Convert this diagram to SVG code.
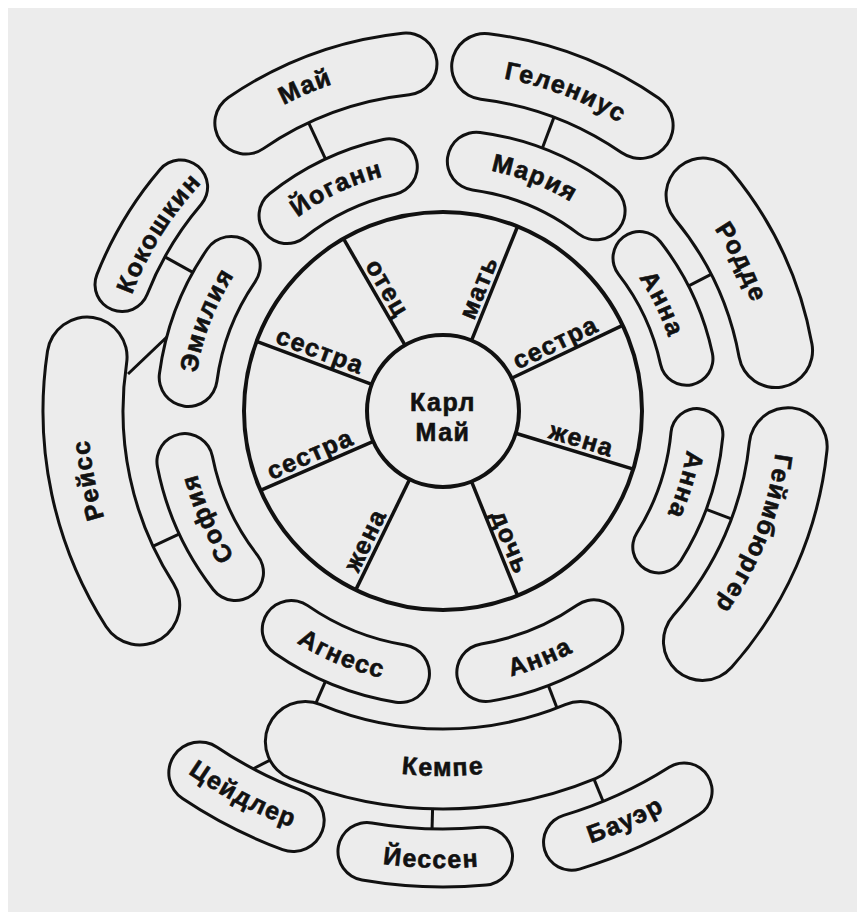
<svg xmlns="http://www.w3.org/2000/svg" width="857" height="912" viewBox="0 0 857 912">
<style>
.o{fill:none;stroke:#111;stroke-linecap:round}
.i{fill:none;stroke:#ececec;stroke-linecap:round}
.t{font-family:"Liberation Sans",Arial,sans-serif;font-weight:bold;font-size:25px;fill:#111;stroke:#111;stroke-width:0.6px;letter-spacing:1.5px}
.ln{stroke:#111;stroke-width:3.5;fill:none}
.cn{stroke:#111;stroke-width:3;fill:none}
.c{fill:#ececec;stroke:#111;stroke-width:4}
</style>
<defs>
<path id="u345" d="M443,756A345,345 0 0 1 443,66A345,345 0 0 1 443,756"/>
<path id="u338" d="M443,749A338,338 0 0 1 443,73A338,338 0 0 1 443,749"/>
<path id="u242" d="M443,653A242,242 0 0 1 443,169A242,242 0 0 1 443,653"/>
<path id="u245" d="M443,656A245,245 0 0 1 443,166A245,245 0 0 1 443,656"/>
<path id="u332" d="M443,743A332,332 0 0 1 443,79A332,332 0 0 1 443,743"/>
<path id="u249" d="M443,660A249,249 0 0 1 443,162A249,249 0 0 1 443,660"/>
<path id="u355" d="M443,766A355,355 0 0 1 443,56A355,355 0 0 1 443,766"/>
<path id="u254" d="M443,665A254,254 0 0 1 443,157A254,254 0 0 1 443,665"/>
<path id="u237" d="M443,648A237,237 0 0 1 443,174A237,237 0 0 1 443,648"/>
<path id="u327" d="M443,738A327,327 0 0 1 443,84A327,327 0 0 1 443,738"/>
<path id="u247" d="M443,658A247,247 0 0 1 443,164A247,247 0 0 1 443,658"/>
<path id="u335" d="M443,746A335,335 0 0 1 443,76A335,335 0 0 1 443,746"/>
<path id="d274" d="M443,137A274,274 0 0 0 443,685A274,274 0 0 0 443,137"/>
<path id="d365" d="M443,46A365,365 0 0 0 443,776A365,365 0 0 0 443,46"/>
<path id="d443" d="M443,-32A443,443 0 0 0 443,854A443,443 0 0 0 443,-32"/>
<path id="d457" d="M443,-46A457,457 0 0 0 443,868A457,457 0 0 0 443,-46"/>
</defs>
<rect width="857" height="912" fill="#ffffff"/>
<rect x="8" y="8" width="849" height="904" fill="#ececec"/>

<g id="ring">
<circle class="c" cx="443" cy="411" r="199"/>
</g>

<g id="connectors">
<line class="ln" x1="443" y1="335" x2="443" y2="212" transform="rotate(330 443 411)"/>
<line class="ln" x1="443" y1="335" x2="443" y2="212" transform="rotate(22 443 411)"/>
<line class="ln" x1="443" y1="335" x2="443" y2="212" transform="rotate(64.5 443 411)"/>
<line class="ln" x1="443" y1="335" x2="443" y2="212" transform="rotate(107 443 411)"/>
<line class="ln" x1="443" y1="335" x2="443" y2="212" transform="rotate(158 443 411)"/>
<line class="ln" x1="443" y1="335" x2="443" y2="212" transform="rotate(206 443 411)"/>
<line class="ln" x1="443" y1="335" x2="443" y2="212" transform="rotate(246.5 443 411)"/>
<line class="ln" x1="443" y1="335" x2="443" y2="212" transform="rotate(290.5 443 411)"/>
<text class="t" text-anchor="middle" transform="rotate(330 443 411) translate(448,277) rotate(90)">отец</text>
<text class="t" text-anchor="middle" transform="rotate(22 443 411) translate(438,283) rotate(-90)">мать</text>
<text class="t" text-anchor="middle" transform="rotate(64.5 443 411) translate(438,280) rotate(-90)">сестра</text>
<text class="t" text-anchor="middle" transform="rotate(107 443 411) translate(438,270) rotate(-90)">жена</text>
<text class="t" text-anchor="middle" transform="rotate(158 443 411) translate(438,264) rotate(-90)">дочь</text>
<text class="t" text-anchor="middle" transform="rotate(206 443 411) translate(448,261) rotate(90)">жена</text>
<text class="t" text-anchor="middle" transform="rotate(246.5 443 411) translate(448,272) rotate(90)">сестра</text>
<text class="t" text-anchor="middle" transform="rotate(290.5 443 411) translate(448,275) rotate(90)">сестра</text>
<line class="cn" x1="443" y1="91" x2="443" y2="135" transform="rotate(-25 443 411)"/>
<line class="cn" x1="443" y1="95" x2="443" y2="132" transform="rotate(20.7 443 411)"/>
<line class="cn" x1="443" y1="108" x2="443" y2="138" transform="rotate(63 443 411)"/>
<line class="cn" x1="443" y1="101" x2="443" y2="132" transform="rotate(110.5 443 411)"/>
<line class="cn" x1="443" y1="91" x2="443" y2="127" transform="rotate(299 443 411)"/>
<line class="cn" x1="443" y1="89" x2="443" y2="122" transform="rotate(245 443 411)"/>
<line class="cn" x1="443" y1="91" x2="443" y2="118" transform="rotate(203.5 443 411)"/>
<line class="cn" x1="443" y1="91" x2="443" y2="119" transform="rotate(159 443 411)"/>
<line class="cn" x1="443" y1="-9" x2="443" y2="15" transform="rotate(181.5 443 411)"/>
<line class="cn" x1="443" y1="-13" x2="443" y2="15" transform="rotate(157.7 443 411)"/>
<line class="cn" x1="128" y1="374" x2="170" y2="334"/>
<line class="cn" x1="280" y1="755" x2="243" y2="774"/>
</g>

<g id="karl-may">
<circle class="c" cx="443" cy="411" r="76"/>
<text class="t" x="443" y="411" text-anchor="middle">Карл</text>
<text class="t" x="443" y="441" text-anchor="middle">Май</text>
</g>

<g id="johann">
<circle class="o" cx="443" cy="411" r="250" stroke-width="59" stroke-dasharray="114.3 3000" transform="rotate(-128.6 443 411)"/>
<circle class="i" cx="443" cy="411" r="250" stroke-width="53" stroke-dasharray="114.3 3000" transform="rotate(-128.6 443 411)"/>
<text class="t" transform="rotate(-25.5 443 411)"><textPath href="#u242" startOffset="50%" text-anchor="middle">Йоганн</textPath></text>
</g>
<g id="maria">
<circle class="o" cx="443" cy="411" r="252" stroke-width="61" stroke-dasharray="131.1 3000" transform="rotate(-82.4 443 411)"/>
<circle class="i" cx="443" cy="411" r="252" stroke-width="55" stroke-dasharray="131.1 3000" transform="rotate(-82.4 443 411)"/>
<text class="t" transform="rotate(21.5 443 411)"><textPath href="#u245" startOffset="50%" text-anchor="middle">Мария</textPath></text>
</g>
<g id="anna-1">
<circle class="o" cx="443" cy="411" r="249" stroke-width="56" stroke-dasharray="112.1 3000" transform="rotate(-37.9 443 411)"/>
<circle class="i" cx="443" cy="411" r="249" stroke-width="50" stroke-dasharray="112.1 3000" transform="rotate(-37.9 443 411)"/>
<text class="t" transform="rotate(64 443 411)"><textPath href="#u237" startOffset="50%" text-anchor="middle">Анна</textPath></text>
</g>
<g id="anna-2">
<circle class="o" cx="443" cy="411" r="255" stroke-width="55" stroke-dasharray="119.7 3000" transform="rotate(5.3 443 411)"/>
<circle class="i" cx="443" cy="411" r="255" stroke-width="49" stroke-dasharray="119.7 3000" transform="rotate(5.3 443 411)"/>
<text class="t" transform="rotate(107 443 411)"><textPath href="#u247" startOffset="50%" text-anchor="middle">Анна</textPath></text>
</g>
<g id="anna-3">
<circle class="o" cx="443" cy="411" r="265" stroke-width="61" stroke-dasharray="117.5 3000" transform="rotate(55.3 443 411)"/>
<circle class="i" cx="443" cy="411" r="265" stroke-width="55" stroke-dasharray="117.5 3000" transform="rotate(55.3 443 411)"/>
<text class="t" transform="rotate(-21.5 443 411)"><textPath href="#d274" startOffset="50%" text-anchor="middle">Анна</textPath></text>
</g>
<g id="agnes">
<circle class="o" cx="443" cy="411" r="266" stroke-width="61" stroke-dasharray="118.8 3000" transform="rotate(99.2 443 411)"/>
<circle class="i" cx="443" cy="411" r="266" stroke-width="55" stroke-dasharray="118.8 3000" transform="rotate(99.2 443 411)"/>
<text class="t" transform="rotate(22.5 443 411)"><textPath href="#d274" startOffset="50%" text-anchor="middle">Агнесс</textPath></text>
</g>
<g id="sofia">
<circle class="o" cx="443" cy="411" r="263" stroke-width="59" stroke-dasharray="123 3000" transform="rotate(142.1 443 411)"/>
<circle class="i" cx="443" cy="411" r="263" stroke-width="53" stroke-dasharray="123 3000" transform="rotate(142.1 443 411)"/>
<text class="t" transform="rotate(245.5 443 411)"><textPath href="#u254" startOffset="50%" text-anchor="middle">София</textPath></text>
</g>
<g id="emilia">
<circle class="o" cx="443" cy="411" r="257" stroke-width="61" stroke-dasharray="121.1 3000" transform="rotate(187.5 443 411)"/>
<circle class="i" cx="443" cy="411" r="257" stroke-width="55" stroke-dasharray="121.1 3000" transform="rotate(187.5 443 411)"/>
<text class="t" transform="rotate(291 443 411)"><textPath href="#u249" startOffset="50%" text-anchor="middle">Эмилия</textPath></text>
</g>

<g id="may">
<circle class="o" cx="443" cy="411" r="349" stroke-width="65" stroke-dasharray="172.4 3000" transform="rotate(-124.4 443 411)"/>
<circle class="i" cx="443" cy="411" r="349" stroke-width="59" stroke-dasharray="172.4 3000" transform="rotate(-124.4 443 411)"/>
<text class="t" transform="rotate(-23 443 411)"><textPath href="#u345" startOffset="50%" text-anchor="middle">Май</textPath></text>
</g>
<g id="gelenius">
<circle class="o" cx="443" cy="411" r="347" stroke-width="69" stroke-dasharray="167.8 3000" transform="rotate(-83.1 443 411)"/>
<circle class="i" cx="443" cy="411" r="347" stroke-width="63" stroke-dasharray="167.8 3000" transform="rotate(-83.1 443 411)"/>
<text class="t" transform="rotate(21 443 411)"><textPath href="#u338" startOffset="50%" text-anchor="middle">Гелениус</textPath></text>
</g>
<g id="rodde">
<circle class="o" cx="443" cy="411" r="338" stroke-width="77" stroke-dasharray="173.4 3000" transform="rotate(-39.7 443 411)"/>
<circle class="i" cx="443" cy="411" r="338" stroke-width="71" stroke-dasharray="173.4 3000" transform="rotate(-39.7 443 411)"/>
<text class="t" transform="rotate(63.5 443 411)"><textPath href="#u327" startOffset="50%" text-anchor="middle">Родде</textPath></text>
</g>
<g id="geimburger">
<circle class="o" cx="443" cy="411" r="347" stroke-width="81" stroke-dasharray="216.2 3000" transform="rotate(5.9 443 411)"/>
<circle class="i" cx="443" cy="411" r="347" stroke-width="75" stroke-dasharray="216.2 3000" transform="rotate(5.9 443 411)"/>
<text class="t" transform="rotate(111.5 443 411)"><textPath href="#u335" startOffset="50%" text-anchor="middle">Геймбюргер</textPath></text>
</g>
<g id="kempe">
<circle class="o" cx="443" cy="411" r="358" stroke-width="83" stroke-dasharray="282.4 3000" transform="rotate(67.4 443 411)"/>
<circle class="i" cx="443" cy="411" r="358" stroke-width="77" stroke-dasharray="282.4 3000" transform="rotate(67.4 443 411)"/>
<text class="t"><textPath href="#d365" startOffset="50%" text-anchor="middle">Кемпе</textPath></text>
</g>
<g id="zeidler">
<circle class="o" cx="443" cy="411" r="436" stroke-width="65" stroke-dasharray="105 3000" transform="rotate(110.1 443 411)"/>
<circle class="i" cx="443" cy="411" r="436" stroke-width="59" stroke-dasharray="105 3000" transform="rotate(110.1 443 411)"/>
<text class="t" transform="rotate(27.5 443 411)"><textPath href="#d443" startOffset="50%" text-anchor="middle">Цейдлер</textPath></text>
</g>
<g id="jessen">
<circle class="o" cx="443" cy="411" r="447" stroke-width="61" stroke-dasharray="117 3000" transform="rotate(84.8 443 411)"/>
<circle class="i" cx="443" cy="411" r="447" stroke-width="55" stroke-dasharray="117 3000" transform="rotate(84.8 443 411)"/>
<text class="t" transform="rotate(1.5 443 411)"><textPath href="#d457" startOffset="50%" text-anchor="middle">Йессен</textPath></text>
</g>
<g id="bauer">
<circle class="o" cx="443" cy="411" r="450" stroke-width="59" stroke-dasharray="124.1 3000" transform="rotate(57.6 443 411)"/>
<circle class="i" cx="443" cy="411" r="450" stroke-width="53" stroke-dasharray="124.1 3000" transform="rotate(57.6 443 411)"/>
<text class="t" transform="rotate(-24 443 411)"><textPath href="#d457" startOffset="50%" text-anchor="middle">Бауэр</textPath></text>
</g>
<g id="reiss">
<circle class="o" cx="443" cy="411" r="360" stroke-width="83" stroke-dasharray="258.9 3000" transform="rotate(147.4 443 411)"/>
<circle class="i" cx="443" cy="411" r="360" stroke-width="77" stroke-dasharray="258.9 3000" transform="rotate(147.4 443 411)"/>
<text class="t" transform="rotate(259 443 411)"><textPath href="#u355" startOffset="50%" text-anchor="middle">Рейсс</textPath></text>
</g>
<g id="kokoshkin">
<circle class="o" cx="443" cy="411" r="345" stroke-width="57" stroke-dasharray="114.4 3000" transform="rotate(201.5 443 411)"/>
<circle class="i" cx="443" cy="411" r="345" stroke-width="51" stroke-dasharray="114.4 3000" transform="rotate(201.5 443 411)"/>
<text class="t" transform="rotate(302 443 411)"><textPath href="#u332" startOffset="50%" text-anchor="middle">Кокошкин</textPath></text>
</g>
</svg>
